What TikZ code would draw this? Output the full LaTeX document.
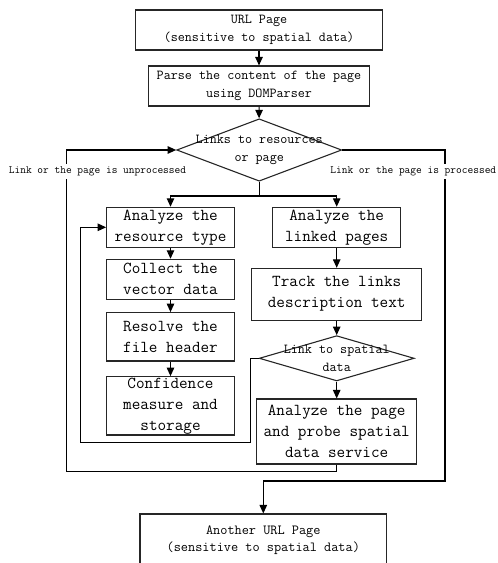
\documentclass[tikz,border=0pt]{standalone}
\usetikzlibrary{arrows.meta,shapes.geometric}
\newcommand\fsmall{\fontsize{13.7}{18}\selectfont\ttfamily}
\newcommand\flow{\fontsize{13.9}{16.8}\selectfont\ttfamily}
\newcommand\fbig{\fontsize{16.7}{21}\selectfont\ttfamily}
\newcommand\flabel{\fontsize{11.1}{13}\selectfont\ttfamily}
\tikzset{
  box/.style={draw=black!85, line width=1.1pt, rectangle, inner sep=0pt, align=center},
  decision/.style={draw=black!85, line width=1.1pt, diamond, inner sep=0pt},
  dtext/.style={align=center, inner sep=0pt, font=\fsmall},
  flowline/.style={line width=1.1pt, -{Triangle[length=8.5pt,width=7.5pt]}},
  plainline/.style={line width=1.1pt},
  side/.style={fill=white, inner xsep=0.5pt, inner ysep=3pt, font=\flabel}
}
\begin{document}
\begin{tikzpicture}[x=1pt,y=-1pt]
\useasboundingbox (0,0) rectangle (498,563);
\clip (0,0) rectangle (498,563);

% top of the chain
\node[box, font=\fsmall, minimum width=246.6pt, minimum height=40pt] (url) at (259,30)
  {URL Page\\(sensitive to spatial data)};
\node[box, font=\fsmall, minimum width=221pt, minimum height=40pt] (parse) at (259,86)
  {Parse the content of the page\\using DOMParser};
\node[decision, minimum width=165pt, minimum height=62.4pt] (d1) at (259.2,150) {};
\node[dtext] (d1t) at (259.2,150.3) {Links to resources\\or page};

% resource branch
\node[box, font=\fbig, minimum width=127.6pt, minimum height=40pt] (ra) at (170.5,227.3)
  {Analyze the\\resource type};
\node[box, font=\fbig, minimum width=127.6pt, minimum height=40pt] (collect) at (170.5,279.3)
  {Collect the\\vector data};
\node[box, font=\fbig, minimum width=127.6pt, minimum height=48.3pt] (resolve) at (170.5,336.8)
  {Resolve the\\file header};
\node[box, minimum width=127.6pt, minimum height=58.3pt] (conf) at (170.5,405.8) {};
\node[font=\fbig, align=center, inner sep=0pt] (conft) at (170.5,406.7)
  {Confidence\\measure and\\storage};

% page branch
\node[box, font=\fbig, minimum width=128pt, minimum height=40pt] (rl) at (336.7,227.3)
  {Analyze the\\linked pages};
\node[box, font=\fbig, minimum width=170pt, minimum height=51.7pt] (track) at (336.7,294.2)
  {Track the links\\description text};
\node[decision, minimum width=155pt, minimum height=45.3pt] (d2) at (336.7,358.3) {};
\node[dtext] (d2t) at (336.7,358.3) {Link to spatial\\data};
\node[box, font=\fbig, minimum width=160pt, minimum height=65pt] (apage) at (336.7,431.5)
  {Analyze the page\\and probe spatial\\data service};

% final page
\node[box, font=\flow, minimum width=246.7pt, minimum height=52pt] (another) at (263.3,540)
  {Another URL Page\\(sensitive to spatial data)};

% connectors
\draw[flowline] (url) -- (parse);
\draw[flowline] (parse) -- (d1);
\coordinate (split) at (259.2,196);
\draw[plainline] (d1.south) -- (split);
\draw[flowline] (split) -| (ra.north);
\draw[flowline] (split) -| (rl.north);
\draw[flowline] (ra) -- (collect);
\draw[flowline] (collect) -- (resolve);
\draw[flowline] (resolve) -- (conf);
\draw[flowline] (rl) -- (track);
\draw[flowline] (track) -- (d2);
\draw[flowline] (d2) -- (apage);

% inner loop back to the resource type
\coordinate (lb1) at (250.7,358.3);
\coordinate (lb2) at (250.7,442.7);
\coordinate (lb3) at (80.7,442.7);
\draw[flowline] (d2.west) -- (lb1) -- (lb2) -- (lb3) |- (ra.west);

% outer loop: unprocessed
\coordinate (lo1) at (336.7,471.7);
\coordinate (lo2) at (66.7,471.7);
\draw[flowline] (apage.south) -- (lo1) -- (lo2) |- (d1.west);

% outer exit: processed
\coordinate (ro1) at (445,150);
\coordinate (ro2) at (445,481);
\coordinate (ro3) at (263.3,481);
\draw[flowline] (d1.east) -- (ro1) -- (ro2) -- (ro3) -- (another.north);

% loop labels
\node[side] (lu) at (97.5,171.7) {Link or the page is unprocessed};
\node[side] (lp) at (413.3,171.7) {Link or the page is processed};
\end{tikzpicture}
\end{document}
